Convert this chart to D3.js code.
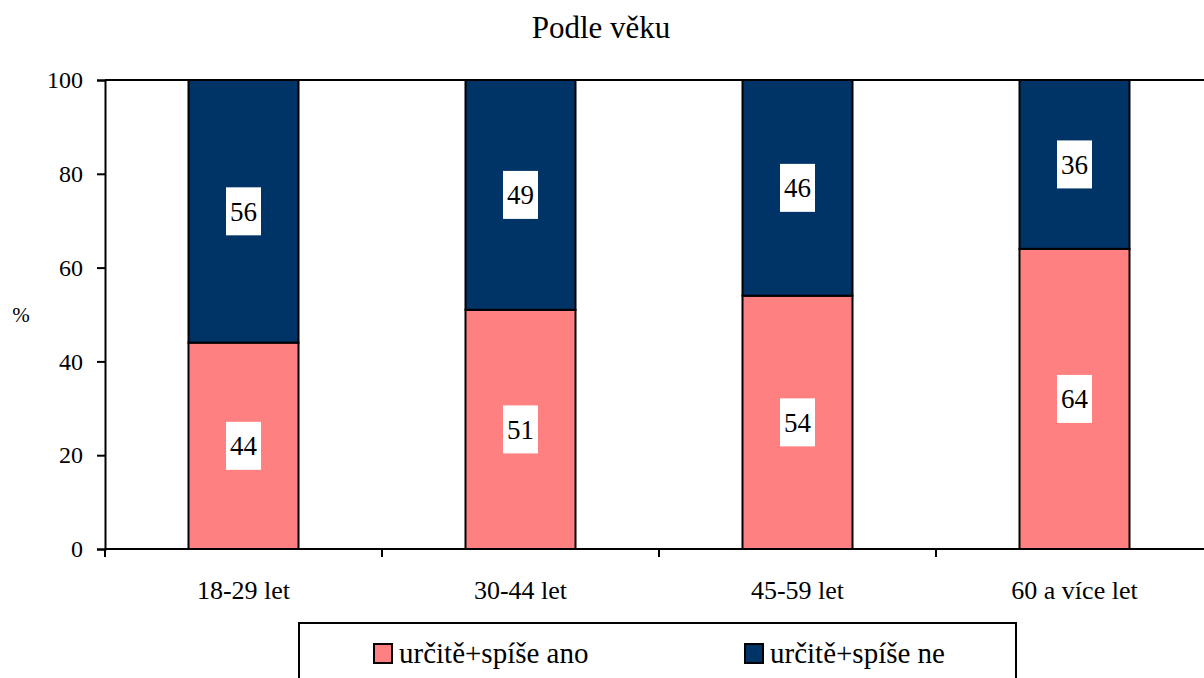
<!DOCTYPE html>
<html>
<head>
<meta charset="utf-8">
<script src="https://cdn.jsdelivr.net/npm/d3@7"></script>
<style>
	body { margin: 0; background: #fff; }
</style>
</head>
<body>
<div id="chart"></div>
<script>
var categories = ['18-29 let', '30-44 let', '45-59 let', '60 a více let'];
var seriesNames = ['určitě+spíše ano', 'určitě+spíše ne'];
var yesValues = [44, 51, 54, 64];
var noValues = [56, 49, 46, 36];
var yTicks = [0, 20, 40, 60, 80, 100];
var colors = ['#FF8080', '#003366'];

var FONT = "'Liberation Serif', 'Times New Roman', serif";

(function(){

	var width = 1204,
		height = 678,
		left = 105,
		top = 80,
		plotW = 1108,
		plotH = 469;

	var svg = d3.select('#chart').append('svg')
		.attr('width', width)
		.attr('height', height)
		.attr('font-family', FONT);

	var x = d3.scaleBand()
		.domain(categories)
		.range([left, left + plotW]);

	var y = d3.scaleLinear()
		.domain([0, 100])
		.range([top + plotH, top]);

	var barW = 110;

	// title
	svg.append('text')
		.attr('x', 601)
		.attr('y', 38)
		.attr('text-anchor', 'middle')
		.attr('font-size', 31)
		.text('Podle věku');

	// plot frame (top / right)
	svg.append('path')
		.attr('d', 'M' + left + ',' + top + 'H' + (left + plotW) + 'V' + (top + plotH))
		.attr('fill', 'none')
		.attr('stroke', '#000')
		.attr('stroke-width', 2);

	// stacked bars
	var segs = [];
	categories.forEach(function(c, i) {
		segs.push({ cat: c, y0: 0, y1: yesValues[i], v: yesValues[i], s: 0 });
		segs.push({ cat: c, y0: yesValues[i], y1: yesValues[i] + noValues[i], v: noValues[i], s: 1 });
	});

	svg.append('g').selectAll('rect').data(segs)
		.enter().append('rect')
		.attr('x', function(d) { return x(d.cat) + (x.bandwidth() - barW) / 2; })
		.attr('width', barW)
		.attr('y', function(d) { return y(d.y1); })
		.attr('height', function(d) { return y(d.y0) - y(d.y1); })
		.attr('fill', function(d) { return colors[d.s]; })
		.attr('stroke', '#000')
		.attr('stroke-width', 2);

	// value labels
	var lab = svg.append('g').selectAll('g').data(segs)
		.enter().append('g')
		.attr('transform', function(d) {
			return 'translate(' + (x(d.cat) + x.bandwidth() / 2) + ',' + y((d.y0 + d.y1) / 2) + ')';
		});
	lab.append('rect')
		.attr('x', -17.5)
		.attr('y', -24)
		.attr('width', 35)
		.attr('height', 48)
		.attr('fill', '#fff');
	lab.append('text')
		.attr('text-anchor', 'middle')
		.attr('dy', '0.35em')
		.attr('font-size', 27)
		.text(function(d) { return d.v; });

	// y axis
	var yAxis = svg.append('g')
		.attr('transform', 'translate(' + left + ',0)')
		.call(d3.axisLeft(y).tickValues(yTicks).tickSize(8).tickPadding(14));
	yAxis.attr('font-family', FONT).attr('font-size', 24);
	yAxis.selectAll('path, line').attr('stroke', '#000').attr('stroke-width', 2);

	// x axis with ticks at band edges
	var xAxis = svg.append('g')
		.attr('transform', 'translate(0,' + (top + plotH) + ')');
	xAxis.append('line')
		.attr('x1', left).attr('x2', left + plotW)
		.attr('stroke', '#000').attr('stroke-width', 2);
	xAxis.selectAll('line.tk').data(categories.concat(['end']))
		.enter().append('line')
		.attr('class', 'tk')
		.attr('x1', function(d, i) { return left + i * x.bandwidth(); })
		.attr('x2', function(d, i) { return left + i * x.bandwidth(); })
		.attr('y1', 0).attr('y2', 8)
		.attr('stroke', '#000').attr('stroke-width', 2);
	xAxis.selectAll('text').data(categories)
		.enter().append('text')
		.attr('x', function(d) { return x(d) + x.bandwidth() / 2; })
		.attr('y', 50)
		.attr('text-anchor', 'middle')
		.attr('font-size', 26)
		.text(function(d) { return d; });

	// y title
	svg.append('text')
		.attr('x', 21)
		.attr('y', 322)
		.attr('text-anchor', 'middle')
		.attr('font-size', 21)
		.text('%');

	// legend
	var lg = svg.append('g');
	lg.append('rect')
		.attr('x', 299).attr('y', 623)
		.attr('width', 717).attr('height', 80)
		.attr('fill', '#fff')
		.attr('stroke', '#000').attr('stroke-width', 2);
	var lx = [374, 745];
	var items = lg.selectAll('g').data(seriesNames)
		.enter().append('g')
		.attr('transform', function(d, i) { return 'translate(' + lx[i] + ',644)'; });
	items.append('rect')
		.attr('width', 18).attr('height', 19)
		.attr('fill', function(d, i) { return colors[i]; })
		.attr('stroke', '#000').attr('stroke-width', 2);
	items.append('text')
		.attr('x', 25)
		.attr('y', 19)
		.attr('font-size', 29)
		.text(function(d) { return d; });

})();
</script>
</body>
</html>
